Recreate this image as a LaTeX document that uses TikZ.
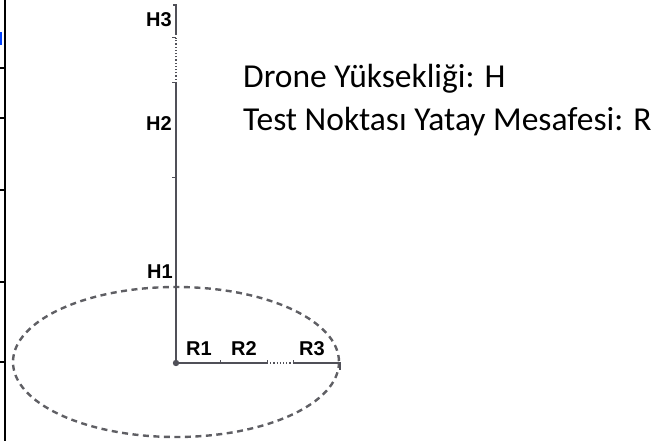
\documentclass[tikz,border=0pt]{standalone}
\usepackage{fontspec}
\setmainfont{Carlito}
\newfontfamily\axisfont{Liberation Sans}
\usetikzlibrary{positioning}
\definecolor{axisgray}{RGB}{80,80,88}
\definecolor{ringgray}{RGB}{95,95,100}

\begin{document}
\begin{tikzpicture}[x=1pt,y=-1pt,
  lbl/.style={font=\axisfont\bfseries\fontsize{20}{20}\selectfont,inner sep=0pt},
  note/.style={font=\fontsize{33.5}{33.5}\selectfont,inner sep=0pt,anchor=base west},
  axis/.style={draw=axisgray,line width=1.2pt},
  tick/.style={draw=axisgray,line width=1pt},
  ring/.style={draw=ringgray,line width=2.4pt,dash pattern=on 6pt off 4.5pt}]
\useasboundingbox (0,0) rectangle (668,441);

% frame stub on the left
\draw[line width=1.6pt] (5,0) -- (5,441);
\foreach \y in {68,118,190,282,362}
  \draw[line width=1.4pt] (0,\y) -- (5,\y);
\fill[blue!75!cyan] (0,32) rectangle (2,45);

% points on the axes
\coordinate(o) at (176,363);
\coordinate(h1) at (176,287);
\coordinate(hm) at (176,177);
\coordinate(h2) at (176,83);
\coordinate(h3a) at (176,38);
\coordinate(h3b) at (176,35);
\coordinate(top) at (176,5);
\coordinate(r1) at (220,363);
\coordinate(r2) at (267,363);
\coordinate(r2b) at (293,363);
\coordinate(r3) at (340,363);

% test circle
\draw[ring] (176,362) ellipse (163 and 75);

% height axis
\draw[axis] (o) -- (h2);
\draw[axis,dotted] (h2) -- (h3a);
\draw[axis] (h3b) -- (top) -- ++(-3,0);
\foreach \c in {hm,h2,h3a}
  \draw[tick] (\c) -- ++(-4,0);

% radius axis
\draw[axis] (o) -- (r2);
\draw[axis,dotted] (r2) -- (r2b);
\draw[axis] (r2b) -- (r3) -- ++(0,7);
\foreach \c in {r1,r2,r2b}
  \draw[tick] (\c) -- ++(0,-3);

\fill[axisgray] (o) circle (3.2);

% labels
\node[lbl,anchor=east](H1) at (173,272){H1};
\node[lbl,anchor=east](H2) at (172,124){H2};
\node[lbl,anchor=east](H3) at (172,20){H3};
\node[lbl](R1) at (199,349){R1};
\node[lbl](R2) at (244,349){R2};
\node[lbl](R3) at (312,349){R3};

\node[note](t1) at (243,88){Drone Yüksekliği: H};
\node[note](t2)[below=42pt of t1.base west,anchor=base west]{Test Noktası Yatay Mesafesi: R};

\end{tikzpicture}
\end{document}
